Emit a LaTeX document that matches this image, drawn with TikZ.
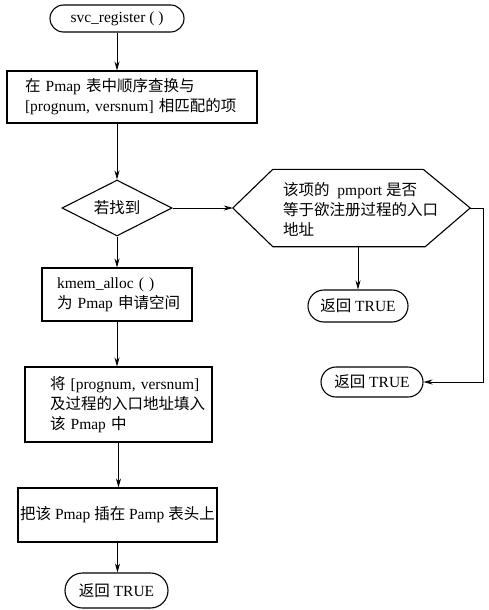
\documentclass[tikz,border=0pt]{standalone}
\usepackage{fontspec}
\setmainfont{Liberation Serif}
\newfontfamily\cjk{Noto Sans CJK SC}
\newcommand\zh[1]{{\cjk #1}}
\usetikzlibrary{shapes.geometric,shapes.misc,arrows.meta}
\hfuzz=100pt
\begin{document}
\begin{tikzpicture}[x=1pt,y=-1pt, font=\fontsize{15.5}{20}\selectfont,
  box/.style={draw, line width=1.1pt, rectangle, align=left, inner ysep=0pt},
  term/.style={draw, line width=1.1pt, rounded rectangle, inner sep=0pt},
  arr/.style={-{Stealth[length=9pt,width=5pt]}, line width=0.8pt}]
\useasboundingbox (0,0) rectangle (488,610);

\node[term, minimum width=134pt, minimum height=27pt] (start) at (117,18.5) {svc\_register ( )};
\node[box, minimum height=52pt, text width=214pt, inner xsep=18pt] (b1) at (132,97)
  {\mbox{\zh{在} Pmap \zh{表中顺序查换与}}\\\mbox{[prognum, versnum] \zh{相匹配的项}}};
\node[diamond, draw, line width=1.1pt, minimum width=110pt, minimum height=56pt, inner sep=0pt, aspect=2] (d) at (117,208) {\zh{若找到}};

\node[minimum width=237pt, minimum height=77pt, inner sep=0pt] (hex) at (351.5,208) {};
\draw[line width=1.1pt] (hex.west) -- ([xshift=40pt]hex.north west) -- ([xshift=-47pt]hex.north east)
  -- (hex.east) -- ([xshift=-45pt]hex.south east) -- ([xshift=40pt]hex.south west) -- cycle;
\node[anchor=west, align=left, inner sep=0pt] (hext) at (283,209)
  {\mbox{\zh{该项的}\ \ pmport \zh{是否}}\\\mbox{\zh{等于欲注册过程的入口}}\\\mbox{\zh{地址}}};

\node[box, minimum height=53pt, text width=120pt, inner xsep=15pt] (b2) at (117,294.5)
  {\mbox{kmem\_alloc ( )}\\\mbox{\zh{为} Pmap \zh{申请空间}}};
\node[box, minimum height=75pt, text width=137pt, inner xsep=25pt] (b3) at (118.5,404.5)
  {\mbox{\zh{将} [prognum, versnum]}\\\mbox{\zh{及过程的入口地址填入}}\\\mbox{\zh{该} Pmap \zh{中}}};
\node[box, align=center, minimum width=199pt, minimum height=54pt, inner xsep=2pt] (b4) at (117.5,515)
  {\mbox{\zh{把该} Pmap \zh{插在} Pamp \zh{表头上}}};

\node[term, minimum width=100pt, minimum height=32pt] (r1) at (358,306) {\zh{返回} TRUE};
\node[term, minimum width=102pt, minimum height=30pt] (r2) at (372,382) {\zh{返回} TRUE};
\node[term, minimum width=103pt, minimum height=35pt] (r3) at (116.5,590.5) {\zh{返回} TRUE};

\draw[arr] (start.south) -- (start.south |- b1.north);
\draw[arr] (d.north |- b1.south) -- (d.north);
\draw[arr] (d.east) -- (hex.west);
\draw[arr] (d.south) -- (b2.north);
\draw[arr] (b2.south) -- (b2.south |- b3.north);
\draw[arr] (b3.south) -- (b3.south |- b4.north);
\draw[arr] (b4.south) -- (b4.south |- r3.north);
\draw[arr] (r1 |- hex.south) -- (r1.north);
\draw[arr] (hex.east) -- ++(13,0) |- (r2.east);
\end{tikzpicture}
\end{document}
